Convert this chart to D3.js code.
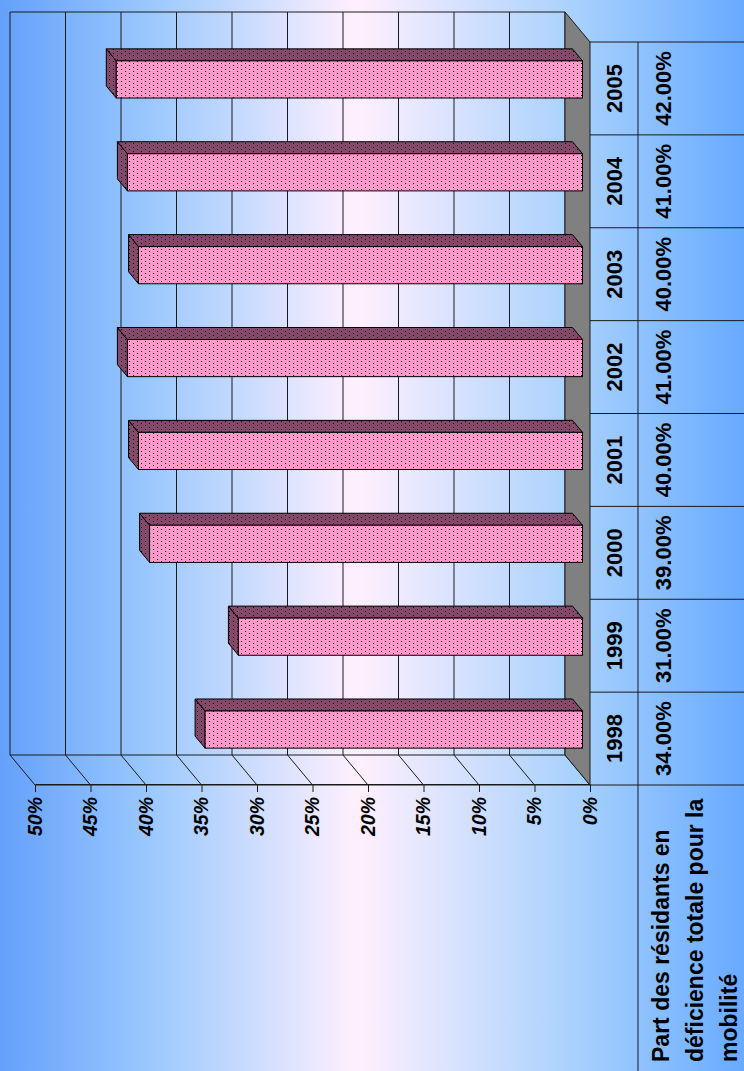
<!DOCTYPE html>
<html>
<head>
<meta charset="utf-8">
<script src="https://cdn.jsdelivr.net/npm/d3@7"></script>
<style>
  body { margin: 0; overflow: hidden; }
  svg { display: block; }
</style>
</head>
<body>
<svg id="chart" width="744" height="1071"></svg>
<script>
// data
const years = ["1998", "1999", "2000", "2001", "2002", "2003", "2004", "2005"];
const shares = [0.34, 0.31, 0.39, 0.40, 0.41, 0.40, 0.41, 0.42];
const valueTicks = [0, 0.05, 0.10, 0.15, 0.20, 0.25, 0.30, 0.35, 0.40, 0.45, 0.50];
const seriesLabel = ["Part des résidants en", "déficience totale pour la", "mobilité"];

const font = "'Liberation Sans', Arial, sans-serif";
const svg = d3.select("#chart");
const defs = svg.append("defs");

// background: blue -> pinkish white -> blue across the page
const bg = defs.append("linearGradient").attr("id", "bg")
    .attr("x1", 0).attr("y1", 0).attr("x2", 1).attr("y2", 0);
bg.append("stop").attr("offset", "0%").attr("stop-color", "#64a0fb");
bg.append("stop").attr("offset", "20%").attr("stop-color", "#9ac8fd");
bg.append("stop").attr("offset", "48%").attr("stop-color", "#fff0fe");
bg.append("stop").attr("offset", "78%").attr("stop-color", "#a6d0fd");
bg.append("stop").attr("offset", "100%").attr("stop-color", "#68aaff");

svg.append("rect").attr("width", 744).attr("height", 1071).attr("fill", "url(#bg)");

// dotted fills for the bars
function dotPattern(id, color) {
  const p = defs.append("pattern").attr("id", id)
      .attr("patternUnits", "userSpaceOnUse").attr("width", 8).attr("height", 8);
  p.append("rect").attr("width", 8).attr("height", 8).attr("fill", color);
  [[1, 1], [5, 1], [3, 5], [7, 5]].forEach(([x, y]) =>
    p.append("rect").attr("x", x).attr("y", y).attr("width", 1).attr("height", 1).attr("fill", "#000"));
}
dotPattern("pinkDots", "#ff99cc");
dotPattern("darkDots", "#86486a");

// the chart is laid out normally (1071 wide, 744 tall) and turned a quarter turn left
const g = svg.append("g").attr("transform", "translate(0,1071) rotate(-90)");

const back = { left: 316, right: 1059, top: 10, bottom: 565 };
const depth = { dx: -30, dy: 25 };   // back plane -> front plane

const y = d3.scaleLinear().domain([0, 0.5]).range([back.bottom, back.top]);
const yFront = d3.scaleLinear().domain([0, 0.5]).range([back.bottom + depth.dy, back.top + depth.dy]);
const xBar = d3.scaleBand().domain(years).range([back.left, back.right])
    .paddingInner(0.6).paddingOuter(0.3);
const xCell = d3.scaleBand().domain(years)
    .range([back.left + depth.dx, back.right + depth.dx]);

// back wall gridlines + side wall lines
g.append("g").selectAll("line").data(valueTicks).join("line")
    .attr("x1", back.left).attr("x2", back.right)
    .attr("y1", d => y(d)).attr("y2", d => y(d))
    .attr("stroke", "#1a1a1a");
g.append("g").selectAll("line").data(valueTicks).join("line")
    .attr("x1", back.left).attr("x2", back.left + depth.dx)
    .attr("y1", d => y(d)).attr("y2", d => yFront(d))
    .attr("stroke", "#1a1a1a");
g.append("line").attr("x1", back.left).attr("x2", back.left)
    .attr("y1", y(0.5)).attr("y2", y(0)).attr("stroke", "#1a1a1a");
g.append("line").attr("x1", back.right).attr("x2", back.right)
    .attr("y1", y(0.5)).attr("y2", y(0)).attr("stroke", "#1a1a1a");

// floor
g.append("polygon")
    .attr("points", [
      [back.left, y(0)], [back.right, y(0)],
      [back.right + depth.dx, yFront(0)], [back.left + depth.dx, yFront(0)]
    ].join(" "))
    .attr("fill", "#808080").attr("stroke", "#1a1a1a");

// 3d bars, occupying 0.3..0.7 of the depth
const f = 0.7, b = 0.3;
const bars = g.append("g").selectAll("g").data(years.map((yr, i) => ({ yr, v: shares[i] }))).join("g");
function barGeom(d) {
  const xl = xBar(d.yr) + depth.dx * f, xr = xl + xBar.bandwidth();
  const yt = y(d.v) + depth.dy * f, yb = y(0) + depth.dy * f;
  const ox = depth.dx * (b - f), oy = depth.dy * (b - f);
  return { xl, xr, yt, yb, ox, oy };
}
bars.append("polygon").attr("points", d => {
  const q = barGeom(d);
  return [[q.xl, q.yt], [q.xr, q.yt], [q.xr + q.ox, q.yt + q.oy], [q.xl + q.ox, q.yt + q.oy]].join(" ");
}).attr("fill", "url(#darkDots)").attr("stroke", "#000").attr("stroke-linejoin", "round");
bars.append("polygon").attr("points", d => {
  const q = barGeom(d);
  return [[q.xr, q.yt], [q.xr, q.yb], [q.xr + q.ox, q.yb + q.oy], [q.xr + q.ox, q.yt + q.oy]].join(" ");
}).attr("fill", "url(#darkDots)").attr("stroke", "#000").attr("stroke-linejoin", "round");
bars.append("rect")
    .attr("x", d => barGeom(d).xl).attr("y", d => barGeom(d).yt)
    .attr("width", xBar.bandwidth()).attr("height", d => barGeom(d).yb - barGeom(d).yt)
    .attr("fill", "url(#pinkDots)").attr("stroke", "#000");

// value axis on the front edge
const axis = g.append("g").attr("transform", `translate(${back.left + depth.dx},0)`)
    .call(d3.axisLeft(yFront).tickValues(valueTicks).tickFormat(d3.format(".0%"))
      .tickSize(7).tickSizeOuter(0).tickPadding(5));
axis.selectAll("path, line").attr("stroke", "#1a1a1a");
axis.selectAll("text").attr("font-family", font).attr("font-size", 19.5)
    .attr("font-weight", "bold").attr("font-style", "italic").attr("fill", "#000");

// data table
const tableTop = yFront(0), rowSplit = 638, tableBottom = 760;
const cellEdges = years.map(yr => xCell(yr)).concat([xCell.range()[1]]);
const table = g.append("g").attr("stroke", "#1a1a1a");
table.selectAll("line.v").data(cellEdges).join("line")
    .attr("x1", d => d).attr("x2", d => d)
    .attr("y1", tableTop).attr("y2", tableBottom);
table.append("line").attr("x1", 0).attr("x2", xCell.range()[1])
    .attr("y1", rowSplit).attr("y2", rowSplit);
table.append("line").attr("x1", xCell.range()[0]).attr("x2", xCell.range()[0])
    .attr("y1", yFront(0.5)).attr("y2", tableTop);

const txt = g.append("g").attr("font-family", font).attr("font-weight", "bold")
    .attr("font-size", 22).attr("fill", "#000");
txt.selectAll("text.yr").data(years).join("text")
    .attr("x", d => xCell(d) + xCell.bandwidth() / 2).attr("y", 614)
    .attr("text-anchor", "middle").attr("dominant-baseline", "central")
    .text(d => d);
txt.selectAll("text.val").data(shares).join("text")
    .attr("x", (d, i) => xCell(years[i]) + xCell.bandwidth() / 2).attr("y", 663)
    .attr("text-anchor", "middle").attr("dominant-baseline", "central")
    .text(d => d3.format(".2%")(d));
txt.selectAll("text.lab").data(seriesLabel).join("text")
    .attr("x", 9).attr("y", (d, i) => 661 + i * 34)
    .attr("font-size", 23)
    .attr("dominant-baseline", "central")
    .text(d => d);
</script>
</body>
</html>
